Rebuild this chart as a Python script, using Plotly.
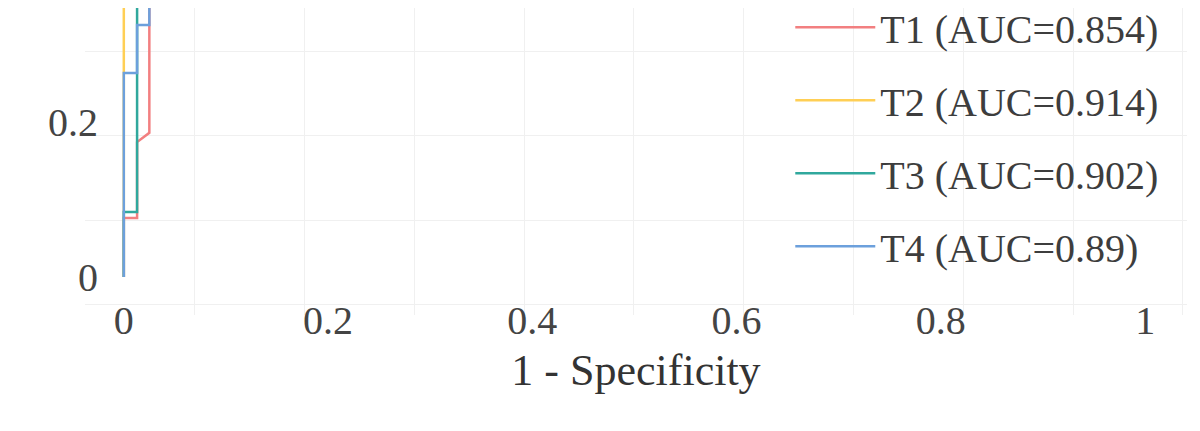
import plotly.graph_objects as go

# ---- data (1 - specificity, sensitivity) ----
series_names = ["T1 (AUC=0.854)", "T2 (AUC=0.914)", "T3 (AUC=0.902)", "T4 (AUC=0.89)"]
t1_fpr = [0.0, 0.0, 0.013, 0.013, 0.025, 0.025]
t1_tpr = [0.0, 0.076, 0.076, 0.174, 0.186, 0.45]
t2_fpr = [0.0, 0.0]
t2_tpr = [0.0, 0.45]
t3_fpr = [0.0, 0.0, 0.013, 0.013]
t3_tpr = [0.0, 0.084, 0.084, 0.45]
t4_fpr = [0.0, 0.0, 0.013, 0.013, 0.025, 0.025]
t4_tpr = [0.0, 0.263, 0.263, 0.325, 0.325, 0.45]

x_ticks = [0, 0.2, 0.4, 0.6, 0.8, 1]
x_tick_text = ["0", "0.2", "0.4", "0.6", "0.8", "1"]
y_ticks = [0, 0.2]
y_tick_text = ["0", "0.2"]

colors = ["#F27F80", "#FFCF55", "#30A89D", "#6CA0DC"]
FONT = "Liberation Serif"
X_RANGE = [-0.038, 1.041]
Y_RANGE = [-0.049, 0.347]

fig = go.Figure()
# empty trace to anchor the background-grid subplot
fig.add_trace(go.Scatter(x=[None], y=[None], xaxis="x", yaxis="y",
                         showlegend=False, hoverinfo="skip"))
all_x = [t1_fpr, t2_fpr, t3_fpr, t4_fpr]
all_y = [t1_tpr, t2_tpr, t3_tpr, t4_tpr]
for i, name in enumerate(series_names):
    fig.add_trace(go.Scatter(
        x=all_x[i], y=all_y[i], mode="lines", name=name,
        line=dict(color=colors[i], width=2.5),
        xaxis="x2", yaxis="y2", legendgroup=f"g{i}"))

fig.update_layout(
    width=1192, height=423,
    margin=dict(l=77, r=13, t=0, b=116, autoexpand=False),
    paper_bgcolor="white", plot_bgcolor="white",
    font=dict(family=FONT, color="#3d3d3d"),
    xaxis=dict(range=X_RANGE, tickmode="linear", tick0=0.0695, dtick=0.1075,
               showgrid=True, gridcolor="#F0F0F0", gridwidth=1.2,
               showticklabels=False, zeroline=False, showline=False, ticks=""),
    yaxis=dict(range=Y_RANGE, tickmode="linear", tick0=0.0735, dtick=0.1084,
               showgrid=True, gridcolor="#F0F0F0", gridwidth=1.2,
               showticklabels=False, zeroline=False, showline=False, ticks=""),
    xaxis2=dict(range=X_RANGE, overlaying="x", side="bottom", anchor="y2",
                tickmode="array", tickvals=x_ticks, ticktext=x_tick_text,
                showgrid=False, zeroline=False, showline=False, ticks="",
                ticklabelstandoff=-22,
                tickfont=dict(size=40, color="#444444"),
                title=dict(text="1 - Specificity", standoff=12,
                           font=dict(size=44, color="#333333"))),
    yaxis2=dict(range=Y_RANGE, overlaying="y", side="left", anchor="x2",
                tickmode="array", tickvals=y_ticks, ticktext=y_tick_text,
                showgrid=False, zeroline=False, showline=False, ticks="",
                ticklabelstandoff=-14,
                tickfont=dict(size=40, color="#444444")),
    legend=dict(x=0.64, y=1.043, xanchor="left", yanchor="top",
                bgcolor="rgba(0,0,0,0)", font=dict(size=40, color="#3d3d3d"),
                tracegroupgap=18, itemwidth=80, maxheight=700),
)

fig.write_html("out.html")
